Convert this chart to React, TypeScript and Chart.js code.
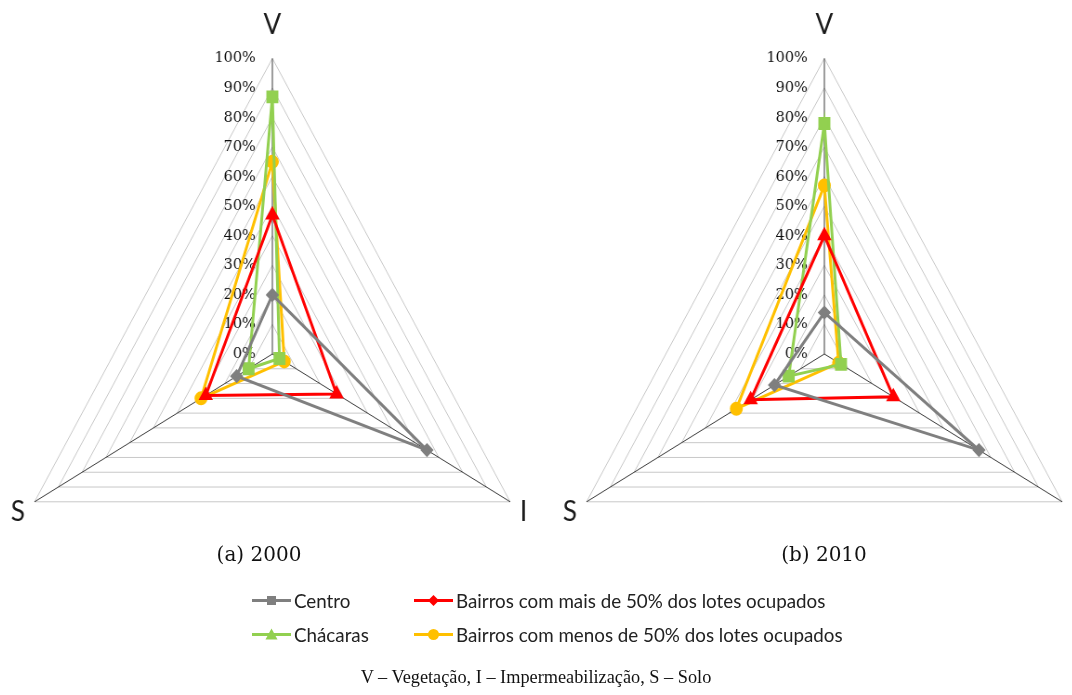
import React, { useEffect, useRef } from "react";
import { Chart, registerables } from "chart.js";

Chart.register(...registerables);

// ---------- data ----------
const axisLabels = ["V", "I", "S"];
const seriesNames = [
  "Centro",
  "Bairros com mais de 50% dos lotes ocupados",
  "Chácaras",
  "Bairros com menos de 50% dos lotes ocupados",
];
// values in % for V, I, S
const centro2000 = [20, 65, 15];
const mais2000 = [47, 27, 28];
const chacaras2000 = [87, 3, 10];
const menos2000 = [65, 5, 30];

const centro2010 = [14, 65, 21];
const mais2010 = [40, 29, 31];
const chacaras2010 = [78, 7, 15];
const menos2010 = [57, 6, 37];

const tickValues = [0, 10, 20, 30, 40, 50, 60, 70, 80, 90, 100];
const tickLabels = ["0%", "10%", "20%", "30%", "40%", "50%", "60%", "70%", "80%", "90%", "100%"];

const captions = ["(a) 2000", "(b) 2010"];
const footnote = "V – Vegetação, I – Impermeabilização, S – Solo";

// ---------- styles ----------
const seriesColors = ["#7f7f7f", "#ff0000", "#92d050", "#ffc000"];
const chartMarkers = ["rectRot", "triangle", "rect", "circle"];
const chartMarkerRadius = [5, 6, 7, 5.5];
const legendMarkers = ["rect", "rectRot", "triangle", "circle"];

const SQUISH = 0.929;
const CANVAS = 667;

const tickLabelPlugin = {
  id: "leftTickLabels",
  beforeDatasetsDraw(chart: any) {
    const scale = chart.scales.r;
    const ctx = chart.ctx;
    ctx.save();
    ctx.font = "15.5px 'DejaVu Serif'";
    ctx.fillStyle = "#111111";
    ctx.textAlign = "right";
    ctx.textBaseline = "middle";
    tickValues.forEach((v, i) => {
      const p = scale.getPointPositionForValue(0, v);
      ctx.fillText(tickLabels[i], p.x - 18, p.y);
    });
    ctx.restore();
  },
};

function RadarPanel(props: { series: number[][]; left: number; top: number }) {
  const ref = useRef<HTMLCanvasElement | null>(null);
  useEffect(() => {
    if (!ref.current) return;
    const datasets = props.series.map((vals, i) => ({
      label: seriesNames[i],
      data: vals,
      borderColor: seriesColors[i],
      backgroundColor: seriesColors[i],
      pointBackgroundColor: seriesColors[i],
      pointBorderColor: seriesColors[i],
      pointStyle: chartMarkers[i] as any,
      pointRadius: chartMarkerRadius[i],
      borderWidth: 3,
      fill: false,
    }));
    const chart = new Chart(ref.current, {
      type: "radar",
      data: { labels: axisLabels, datasets },
      options: {
        responsive: false,
        animation: false,
        layout: { padding: 0 },
        plugins: { legend: { display: false }, tooltip: { enabled: false } },
        elements: { line: { tension: 0 } },
        scales: {
          r: {
            min: 0,
            max: 100,
            beginAtZero: true,
            ticks: { stepSize: 10, display: false },
            grid: { color: "#c8c8c8", lineWidth: 1 },
            angleLines: { color: "#3a3a3a", lineWidth: 1 },
            pointLabels: {
              font: { family: "Lato", size: 28, lineHeight: 0.3 },
              color: "#1a1a1a",
              padding: (c: any) => (c.index === 0 ? 29 : 12),
            },
          },
        },
      },
      plugins: [tickLabelPlugin],
    });
    return () => chart.destroy();
  }, []);
  return (
    <div
      style={{
        position: "absolute",
        left: props.left,
        top: props.top,
        width: CANVAS,
        height: CANVAS,
        transform: `scaleX(${SQUISH})`,
        transformOrigin: "0 0",
      }}
    >
      <canvas ref={ref} width={CANVAS} height={CANVAS} style={{ display: "block" }} />
    </div>
  );
}

function LegendMarker(props: { kind: string; color: string }) {
  const { kind, color } = props;
  let shape: any = null;
  if (kind === "rect") shape = <rect x={15} y={3} width={9} height={9} fill={color} />;
  else if (kind === "rectRot") shape = <polygon points="19.5,2 25,7.5 19.5,13 14,7.5" fill={color} />;
  else if (kind === "triangle") shape = <polygon points="19.5,1.5 25.5,12.5 13.5,12.5" fill={color} />;
  else shape = <circle cx={19.5} cy={7.5} r={5.5} fill={color} />;
  return (
    <svg width={39} height={15} style={{ display: "block" }}>
      <line x1={0} y1={7.5} x2={39} y2={7.5} stroke={color} strokeWidth={3} />
      {shape}
    </svg>
  );
}

const legendPos = [
  { x: 252, y: 600 },
  { x: 414, y: 600 },
  { x: 252, y: 634 },
  { x: 414, y: 634 },
];

export default function App() {
  return (
    <div
      style={{
        position: "fixed",
        left: 0,
        top: 0,
        width: 1072,
        height: 695,
        overflow: "hidden",
        background: "#ffffff",
      }}
    >
      <RadarPanel
        series={[centro2000, mais2000, chacaras2000, menos2000]}
        left={272.7 - (CANVAS / 2) * SQUISH}
        top={3}
      />
      <RadarPanel
        series={[centro2010, mais2010, chacaras2010, menos2010]}
        left={825.3 - (CANVAS / 2) * SQUISH}
        top={3}
      />
      {captions.map((c, i) => (
        <div
          key={c}
          style={{
            position: "absolute",
            left: i === 0 ? 159 : 724,
            width: 200,
            top: 541,
            textAlign: "center",
            fontFamily: "'DejaVu Serif'",
            fontSize: 20,
            lineHeight: "26px",
            color: "#111",
          }}
        >
          {c}
        </div>
      ))}
      {seriesNames.map((name, i) => (
        <div
          key={name}
          style={{
            position: "absolute",
            left: legendPos[i].x,
            top: legendPos[i].y - 11,
            height: 22,
            display: "flex",
            alignItems: "center",
            whiteSpace: "nowrap",
          }}
        >
          <LegendMarker kind={legendMarkers[i]} color={seriesColors[i]} />
          <span
            style={{
              marginLeft: 3,
              fontFamily: "Lato",
              fontSize: 18.8,
              color: "#222",
            }}
          >
            {name}
          </span>
        </div>
      ))}
      <div
        style={{
          position: "absolute",
          left: 0,
          width: 1072,
          top: 664,
          textAlign: "center",
          fontFamily: "'Liberation Serif'",
          fontSize: 18.3,
          lineHeight: "26px",
          color: "#111",
        }}
      >
        {footnote}
      </div>
    </div>
  );
}
